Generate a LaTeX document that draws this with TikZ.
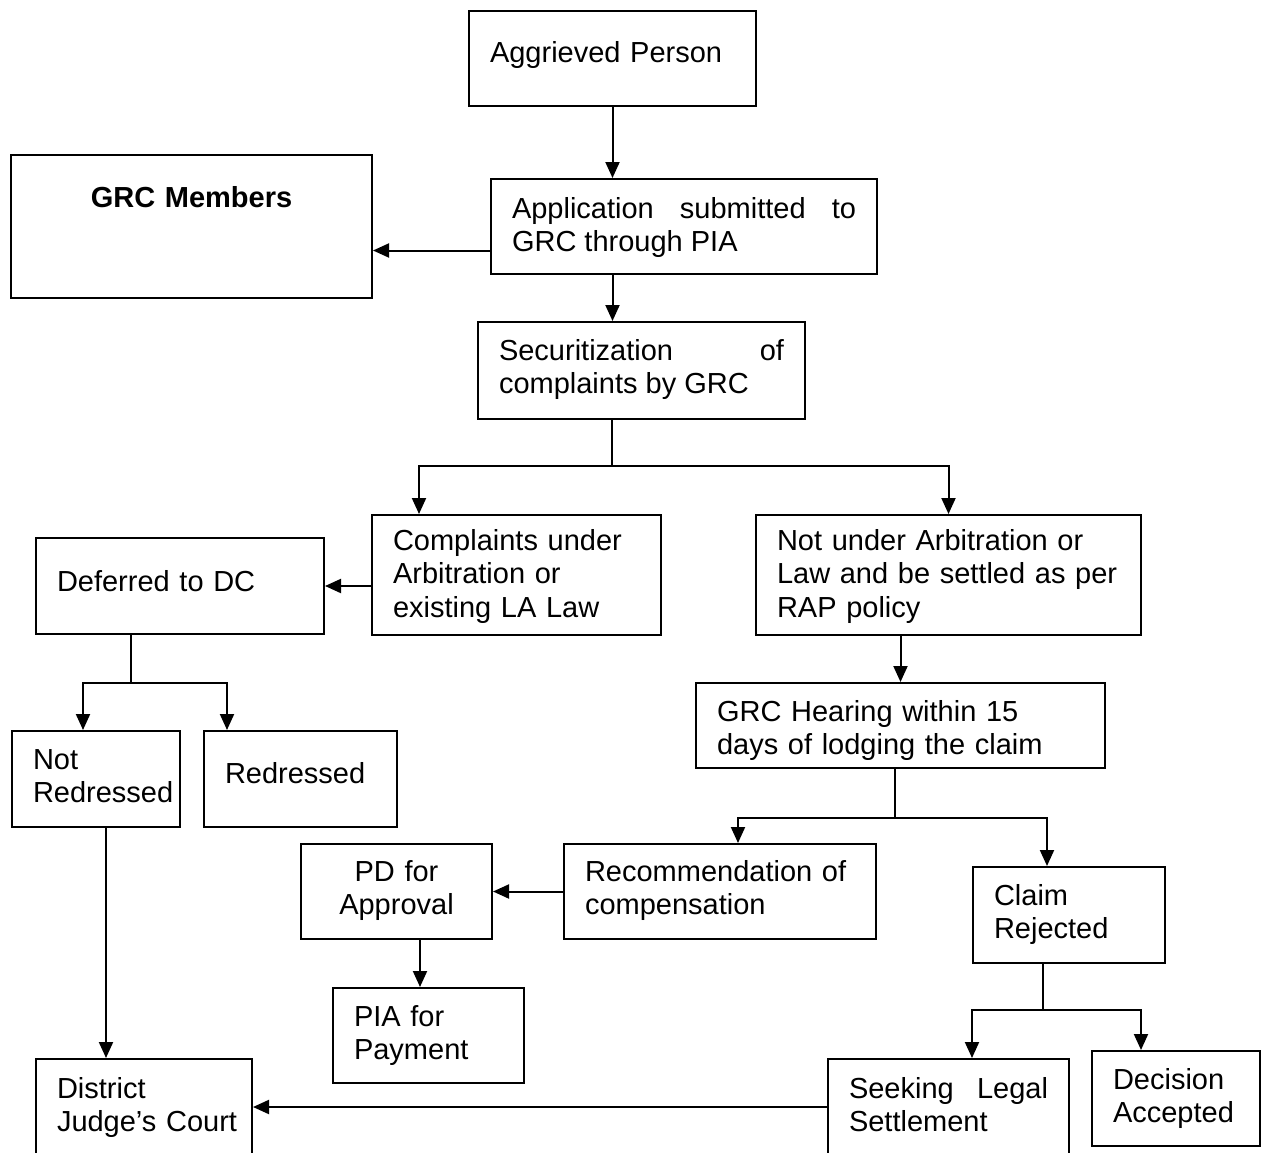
\documentclass[tikz,border=0pt]{standalone}
\usepackage{fontspec}
\setmainfont{Liberation Sans}
\usetikzlibrary{arrows.meta}
\hyphenpenalty=10000

\begin{document}
\begin{tikzpicture}[x=1pt, y=-1pt]
	\tikzstyle{block} = [draw, line width=2pt, anchor=north west, inner xsep=21pt, inner ysep=0pt,
	align=left, text height=38pt, font=\fontsize{29}{33.5}\selectfont];
	\tikzstyle{link} = [line width=2pt, -{Triangle[length=16pt, width=14pt]}];
	\useasboundingbox (0,0) rectangle (1263,1153);
	\node[block, text width=245pt, text height=52pt, text depth=43pt] (aggrieved) at (468,10) {Aggrieved Person};
	\node[block, text width=319pt, text height=52pt, text depth=91pt, align=center, font=\fontsize{29}{33.5}\selectfont\bfseries] (members) at (10,154) {GRC Members};
	\node[block, text width=344pt, text height=39pt, text depth=56pt, align=justify] (application) at (490,178) {Application submitted to\linebreak GRC through PIA};
	\node[block, text width=285pt, text depth=59pt, align=justify] (securitization) at (477,321) {Securitization of\linebreak complaints by GRC};
	\node[block, text width=247pt, text height=35pt, text depth=85pt] (complaints) at (371,514) {Complaints under\\Arbitration or\\existing LA Law};
	\node[block, text width=246pt, text height=53pt, text depth=43pt] (deferred) at (35,537) {Deferred to DC};
	\node[block, text width=343pt, text height=35pt, text depth=85pt] (notunder) at (755,514) {Not under Arbitration or\\Law and be settled as per\\RAP policy};
	\node[block, text width=367pt, text depth=47pt] (hearing) at (695,682) {GRC Hearing within 15\\days of lodging the claim};
	\node[block, text width=126pt, text depth=58pt] (notredressed) at (11,730) {Not\\\mbox{Redressed}};
	\node[block, text width=151pt, text height=52pt, text depth=44pt] (redressed) at (203,730) {Redressed};
	\node[block, text width=149pt, text height=37pt, text depth=58pt, align=center] (approval) at (300,843) {PD for\\Approval};
	\node[block, text width=270pt, text height=37pt, text depth=58pt] (recommendation) at (563,843) {Recommendation of\\compensation};
	\node[block, text width=150pt, text depth=58pt] (rejected) at (972,866) {Claim\\Rejected};
	\node[block, text width=149pt, text depth=57pt] (payment) at (332,987) {PIA for\\Payment};
	\node[block, text width=174pt, text height=39pt, text depth=57pt] (court) at (35,1058) {District\\Judge's~Court};
	\node[block, text width=199pt, text height=39pt, text depth=57pt, align=justify] (legal) at (827,1058) {Seeking Legal\linebreak Settlement};
	\node[block, text width=126pt, text depth=57pt] (accepted) at (1091,1050) {Decision\\Accepted};
	\coordinate (appleft) at ([yshift=-24pt]application.west);
	\coordinate (split1) at (611.5,466);
	\coordinate (split2) at (131,683);
	\coordinate (split3) at (895,818);
	\coordinate (split4) at (1043,1010);
	\draw[link] (aggrieved.south) -- (aggrieved.south |- application.north);
	\draw[link] (appleft) -- (appleft -| members.east);
	\draw[link] (application.south -| aggrieved.south) -- (securitization.north -| aggrieved.south);
	\draw[line width=2pt] (securitization.south -| split1) -- (split1);
	\draw[link] (split1) -| ([xshift=48pt]complaints.north west);
	\draw[link] (split1) -| (notunder.north);
	\draw[link] (complaints.west |- deferred.east) -- (deferred.east);
	\draw[line width=2pt] (deferred.south -| split2) -- (split2);
	\draw[link] (split2) -| ([xshift=72pt]notredressed.north west);
	\draw[link] (split2) -| ([xshift=24pt]redressed.north west);
	\draw[link] (notunder.south -| hearing.north) -- (hearing.north);
	\draw[line width=2pt] (hearing.south -| split3) -- (split3);
	\draw[link] (split3) -| ([xshift=175pt]recommendation.north west);
	\draw[link] (split3) -| ([xshift=75pt]rejected.north west);
	\draw[link] (recommendation.west) -- (approval.east);
	\draw[link] ([xshift=120pt]approval.south west) -- ([xshift=88pt]payment.north west);
	\draw[link] ([xshift=95pt]notredressed.south west) -- ([xshift=71pt]court.north west);
	\draw[line width=2pt] (rejected.south -| split4) -- (split4);
	\draw[link] (split4) -| ([xshift=145pt]legal.north west);
	\draw[link] (split4) -| ([xshift=50pt]accepted.north west);
	\draw[link] (legal.west) -- (court.east);
\end{tikzpicture}
\end{document}
